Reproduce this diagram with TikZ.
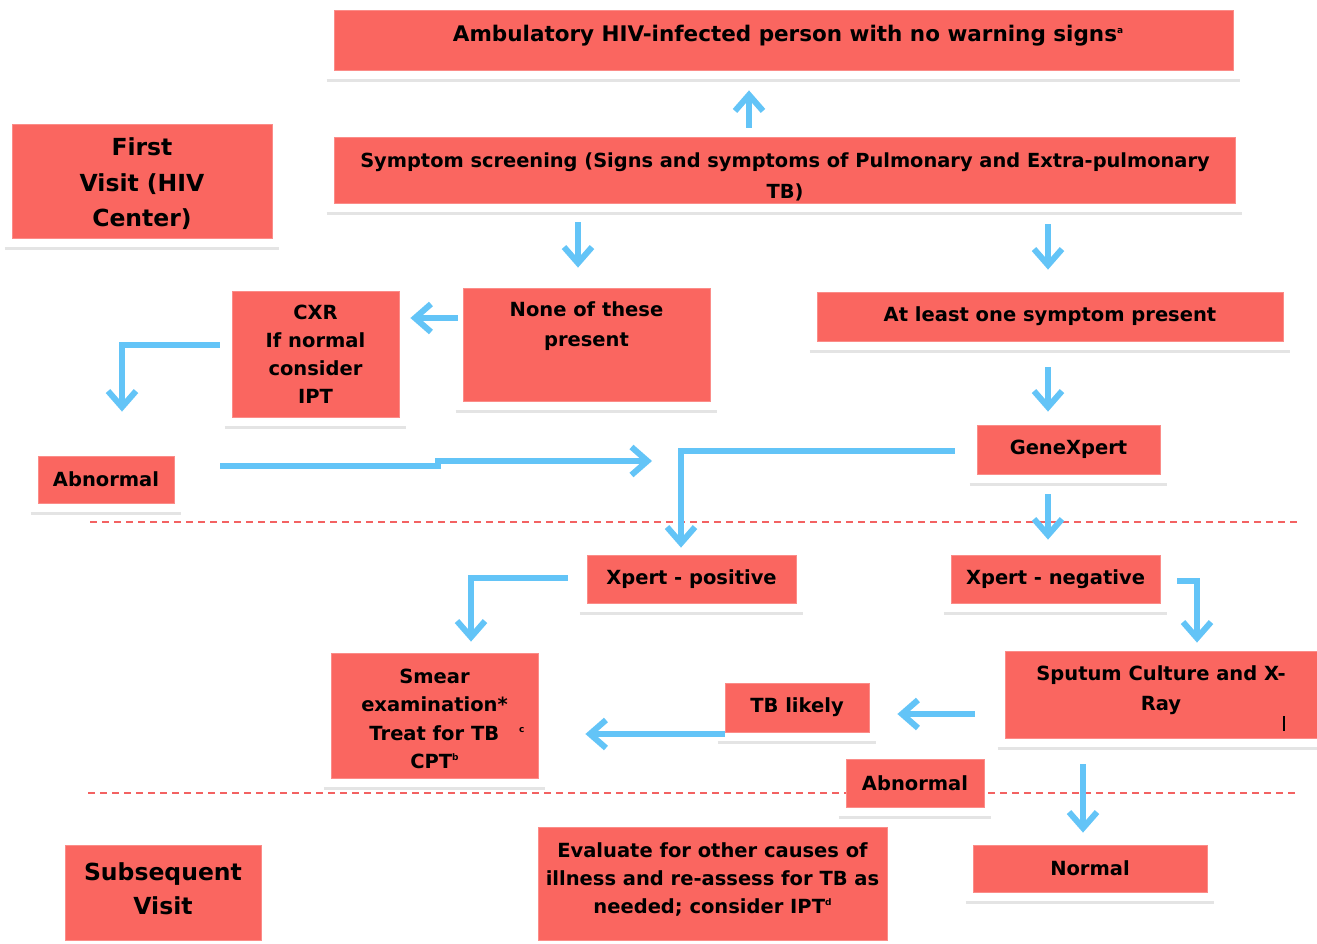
\documentclass[tikz,border=0pt]{standalone}
\usepackage{fontspec}
\setmainfont{DejaVu Sans}
\usetikzlibrary{arrows.meta,calc}

\newlength{\du}
\setlength{\du}{1pt}

\definecolor{boxred}{RGB}{250,102,96}
\definecolor{flowblue}{RGB}{99,196,247}
\definecolor{shadowgray}{RGB}{228,228,228}
\definecolor{dashred}{RGB}{243,98,98}

\newcommand{\boxfont}{\fontsize{19.5}{28}\selectfont\bfseries}
\newcommand{\visitfont}{\fontsize{23.5}{35.5}\selectfont\bfseries}
\newcommand{\supmark}[1]{\raisebox{0.75ex}{\fontsize{9}{9}\selectfont #1}}

\tikzset{
  box/.style={fill=boxred, draw=boxred!75!white, line width=0.8\du, inner sep=0pt, align=center, font=\boxfont},
  txt/.style={inner sep=0pt, align=center, font=\boxfont},
  flow/.style={draw=flowblue, line width=6\du, -{Straight Barb[length=16pt,width=28pt]}},
  shadowline/.style={draw=shadowgray, line width=3\du},
  visitline/.style={draw=dashred, line width=1.2\du, dash pattern=on 7pt off 5pt},
}

\begin{document}
\begin{tikzpicture}[x=1\du,y=-1\du]
\useasboundingbox (0,0) rectangle (1317,944);

% visit separators
\draw[visitline] (90,522) -- (1297,522);
\draw[visitline] (88,793) -- (1295,793);

% boxes
\node[box, minimum width=899\du, minimum height=60\du] (amb) at (783.5,40) {};
\node[txt, font=\fontsize{21.5}{28}\selectfont\bfseries] (ambtext) at (788,36) {Ambulatory HIV-infected person with no warning signs\supmark{a}};
\node[box, minimum width=901\du, minimum height=66\du] (sympt) at (784.5,170) {};
\begin{scope}
\clip (sympt.south west) rectangle (sympt.north east);
\node[txt, font=\fontsize{19.4}{31}\selectfont\bfseries] (symptext) at (785,176.5) {Symptom screening (Signs and symptoms of Pulmonary and Extra-pulmonary\\TB)};
\end{scope}
\node[box, minimum width=260\du, minimum height=114\du] (first) at (142,181) {};
\node[txt, font=\visitfont] (firsttext) at (142,184) {First\\Visit (HIV\\Center)};
\node[box, minimum width=247\du, minimum height=113\du,
  label={[txt, anchor=north, yshift=-14\du, font=\fontsize{19.5}{30}\selectfont\bfseries]north:{None of these\\present}}] (none) at (586.5,344.5) {};
\node[box, minimum width=167\du, minimum height=126\du] (cxr) at (315.5,354) {CXR\\If normal\\consider\\IPT};
\node[box, minimum width=136\du, minimum height=47\du] (abnl) at (106,479.5) {Abnormal};
\node[box, minimum width=466\du, minimum height=49\du] (atleast) at (1050,316.5) {At least one symptom present};
\node[box, minimum width=183\du, minimum height=49\du] (gene) at (1068.5,449.5) {GeneXpert};
\node[box, minimum width=209\du, minimum height=48\du] (xpos) at (691.5,579) {Xpert - positive};
\node[box, minimum width=209\du, minimum height=48\du] (xneg) at (1055.5,579) {Xpert - negative};
\node[box, minimum width=207\du, minimum height=125\du] (smear) at (434.5,715.5) {};
\node[txt, font=\fontsize{19.5}{28.5}\selectfont\bfseries] (smeartext) at (434.5,719) {Smear\\examination*\\\hspace*{25\du}Treat for TB\hspace{20\du}\supmark{c}\\CPT\supmark{b}};
\node[box, minimum width=144\du, minimum height=49\du] (tbl) at (797,707.5) {TB likely};
\node[box, minimum width=312\du, minimum height=87\du,
  label={[txt, anchor=north, yshift=-15\du, font=\fontsize{19.5}{30}\selectfont\bfseries]north:{Sputum Culture and X-\\Ray}}] (sput) at (1161,694.5) {};
\draw[line width=1.2\du] (1284,716) -- (1284,731);
\node[box, minimum width=138\du, minimum height=48\du] (abn2) at (915,783) {Abnormal};
\node[box, minimum width=234\du, minimum height=47\du] (normal) at (1090,868.5) {Normal};
\node[box, minimum width=349\du, minimum height=113\du] (eval) at (712.5,883.5) {};
\node[txt] (evaltext) at (712.5,879.5) {Evaluate for other causes of\\illness and re-assess for TB as\\needed; consider IPT\supmark{d}};
\node[box, minimum width=196\du, minimum height=95\du] (subseq) at (163,892.5) {};
\node[txt, font=\fontsize{23.5}{34}\selectfont\bfseries] (subseqtext) at (163,888.5) {Subsequent\\Visit};

% shadows under the boxes
\foreach \b in {amb,sympt,first,none,cxr,abnl,atleast,gene,xpos,xneg,smear,tbl,sput,abn2,normal}
  \draw[shadowline] ($(\b.south west)+(-7,10)$) -- ($(\b.south east)+(7,10)$);

% connectors
\draw[flow, shorten <=9\du, shorten >=20\du] (sympt.north -| 749,0) -- (amb.south -| 749,0);
\draw[flow, shorten <=19\du, shorten >=20\du] (sympt.south -| 578,0) -- (none.north -| 578,0);
\draw[flow, shorten <=21\du, shorten >=22\du] (sympt.south -| 1048,0) -- (atleast.north -| 1048,0);
\draw[flow, shorten <=5\du, shorten >=11\du] (none.west |- 0,318) -- (cxr.east |- 0,318);
\draw[flow, shorten >=44\du] ($(cxr.west |- 0,345)+(-12,0)$) -| (abnl.north -| 122,0);
\coordinate (joinA) at (652,461);
\draw[flow] ($(abnl.east |- 0,466)+(46,0)$) -- ++(218,0) -- ++(0,-5) -- (joinA);
\draw[flow, shorten <=26\du, shorten >=13\du] (atleast.south -| 1048,0) -- (gene.north -| 1048,0);
\draw[flow, shorten <=22\du, shorten >=7\du] (gene.west |- 0,451) -| (xpos.north -| 681,0);
\draw[flow, shorten <=20\du, shorten >=15\du] (gene.south -| 1048,0) -- (xneg.north -| 1048,0);
\draw[flow, shorten <=19\du, shorten >=11\du] (xpos.west |- 0,578) -| (smear.north -| 471,0);
\draw[flow, shorten <=17\du, shorten >=8\du] (xneg.east |- 0,581) -| (sput.north -| 1197,0);
\draw[flow, shorten <=30\du, shorten >=28\du] (sput.west |- 0,714) -- (tbl.east |- 0,714);
\draw[flow, shorten >=47\du] (tbl.west |- 0,734) -- (smear.east |- 0,734);
\draw[flow, shorten <=26\du, shorten >=12\du] (sput.south -| 1083,0) -- (normal.north -| 1083,0);
\end{tikzpicture}
\end{document}
